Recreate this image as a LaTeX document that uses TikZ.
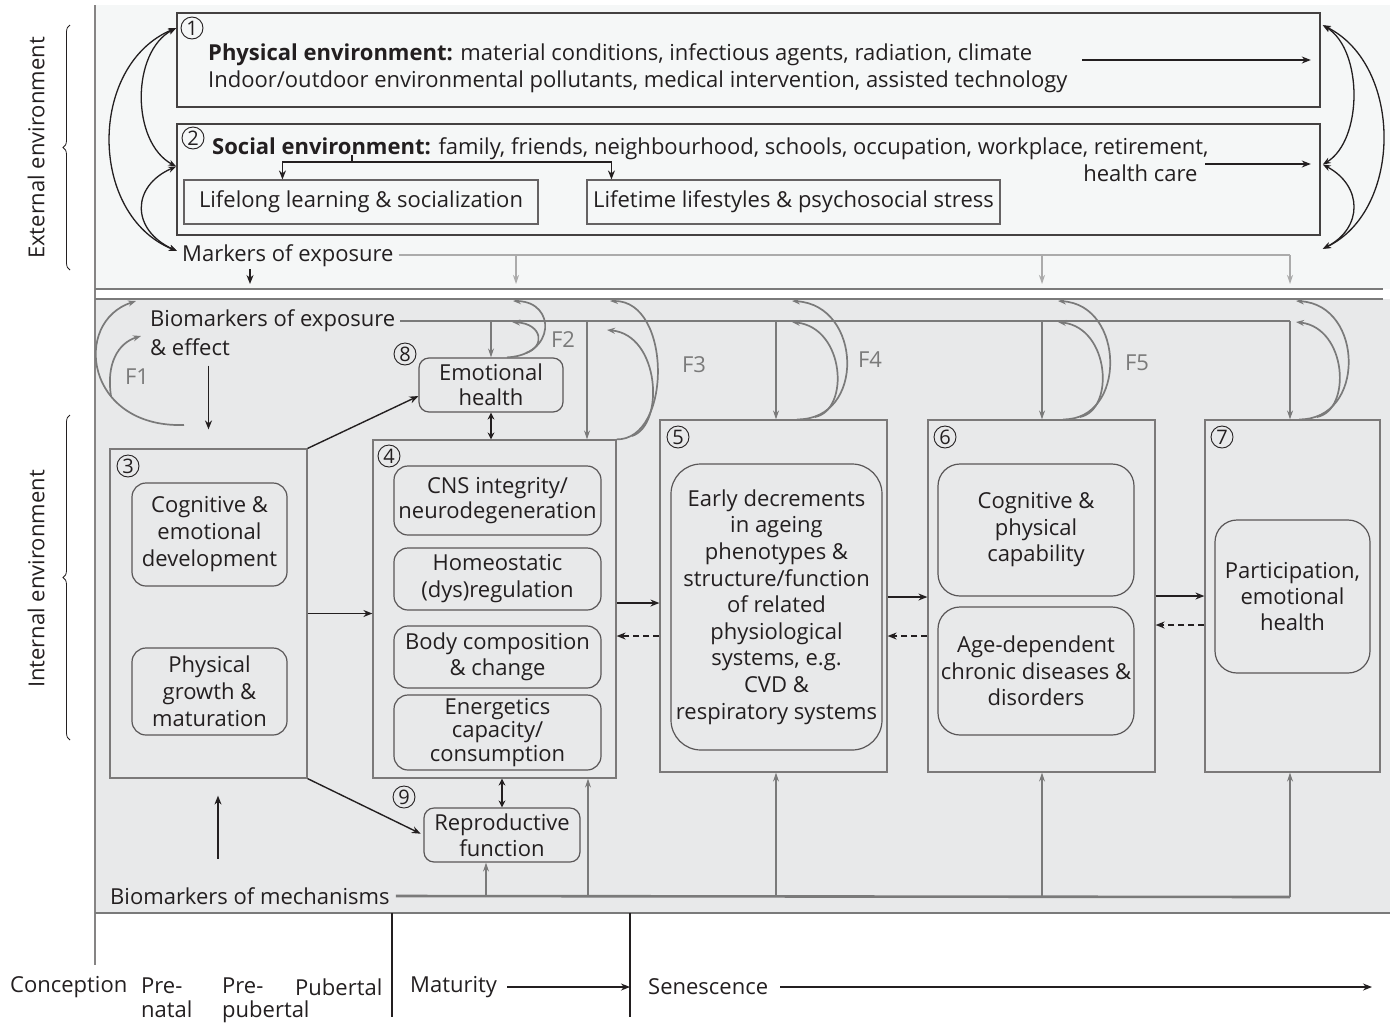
\documentclass[tikz,border=0pt]{standalone}
\usepackage{fontspec}
\setmainfont{Open Sans}
\usetikzlibrary{arrows.meta,calc,positioning,decorations.pathreplacing}
\definecolor{ink}{HTML}{231F20}
\definecolor{extbg}{HTML}{F5F7F7}
\definecolor{intbg}{HTML}{E8E9EA}
\definecolor{lineg}{HTML}{7A7A7A}
\definecolor{lightg}{HTML}{ABABAB}

\begin{document}
\begin{tikzpicture}[x=1pt,y=-1pt,font=\fontsize{22}{27}\selectfont,text=ink,>={Stealth[length=9pt,width=7pt]}]

\tikzset{envbox/.style={draw=ink!85,line width=1.6pt,inner sep=0pt,shape=rectangle},
subbox/.style={draw=ink!70,line width=1.1pt,inner sep=0pt,shape=rectangle},
stagebox/.style={draw=ink!60,line width=1.2pt,inner sep=0pt,shape=rectangle},
roundbox/.style={draw=ink!75,line width=1.2pt,rounded corners=14pt,inner sep=0pt,align=center},
num/.style={draw=ink,line width=0.9pt,circle,inner sep=0pt,minimum size=22pt,font=\fontsize{20}{20}\selectfont},
plain/.style={inner sep=0pt},
blk/.style={->,line width=1.4pt,draw=ink},
blkboth/.style={<->,line width=1.4pt,draw=ink,>={Stealth[length=7pt,width=7pt]}},
backarr/.style={->,line width=1.4pt,draw=ink,dash pattern=on 6pt off 4pt},
envarc/.style={<->,line width=1.3pt,draw=ink,>={Stealth[length=8pt,width=6pt]}},
dblline/.style={line width=2.6pt,draw=lineg},
bioline/.style={line width=2.6pt,draw=lineg},
bioarr/.style={->,line width=1.2pt,draw=lineg,>={Stealth[length=9pt,width=6pt]}},
feedarc/.style={->,line width=1.7pt,draw=lineg,>={Stealth[length=8pt,width=6pt]}},
markline/.style={line width=1.1pt,draw=lightg},
markarr/.style={->,line width=1.1pt,draw=lightg,>={Stealth[length=9pt,width=6pt]}},
flabel/.style={inner sep=0pt,text=lineg},
brace/.style={decorate,decoration={brace,amplitude=7pt},line width=0.8pt,draw=ink}}

\useasboundingbox (0,0) rectangle (1394,1023);

% Backgrounds and frame
\fill[extbg] (95,5) rectangle (1390,289);
\fill[intbg] (95,299) rectangle (1390,913);
\draw[line width=2pt,draw=ink!55] (95,5) -- (95,965);
\draw[line width=2.5pt,draw=lineg] (95,913) -- (1390,913);
\coordinate (dblA) at (95,289);
\coordinate (dblB) at (95,299);
\draw[dblline] (dblA) -- (dblA -| 1383,0);
\draw[dblline] (dblB) -- (dblB -| 1383,0);

% Side labels
\node (ext) [plain,rotate=90] at (36,148) {External environment};
\node (int) [plain,rotate=90] at (36,579) {Internal environment};
\draw[brace] (70,270) -- (70,25);
\draw[brace] (70,740) -- (70,415);

% Physical environment
\node (phys) [envbox,minimum width=1143pt,minimum height=94pt] at (748.5,60) {};
\node (n1) [num] at (192,28) {1};
\node (phystext) [plain,anchor=west,align=left] at (208,68) {\textbf{Physical environment:} material conditions, infectious agents, radiation, climate\\Indoor/outdoor environmental pollutants, medical intervention, assisted technology};
\coordinate (physarr) at (1082,60);
\draw[blk,shorten >=10pt] (physarr) -- (phys.east |- physarr);

% Social environment
\node (soc) [envbox,minimum width=1143pt,minimum height=111pt] at (748.5,179.5) {};
\node (n2) [num] at (193,138) {2};
\node (soctext) [plain,anchor=west,align=right] at (212,160) {\textbf{Social environment:} family, friends, neighbourhood, schools, occupation, workplace, retirement,\\health care\hspace*{11pt}};
\node (learn) [subbox,minimum width=354pt,minimum height=44pt] at (361,202) {Lifelong learning \& socialization};
\node (life) [subbox,minimum width=413pt,minimum height=44pt] at (793.5,202) {Lifetime lifestyles \& psychosocial stress};
\coordinate (socarr) at (1205,164);
\draw[blk,shorten >=10pt] (socarr) -- (soc.east |- socarr);
\coordinate (branch) at (352,155);
\coordinate (split) at (352,162);
\draw[line width=2pt,draw=ink] (branch) -- (split);
\draw[blk] (split) -| ($(learn.north west)+(99,0)$);
\draw[blk] (split) -| ($(life.north west)+(25,0)$);

% Markers of exposure
\node (mexp) [plain,anchor=west] at (182,256) {Markers of exposure};
\coordinate (mexpend) at (1290,255);
\draw[markline] ([xshift=5pt]mexp.east |- mexpend) -- (mexpend);
\draw[markarr,shorten >=5pt] (mexpend -| 516,0) -- (dblA -| 516,0);
\draw[markarr,shorten >=5pt] (mexpend -| 1042,0) -- (dblA -| 1042,0);
\draw[markarr,shorten >=5pt] (mexpend) -- (dblA -| mexpend);
\draw[blk,shorten <=2pt,shorten >=5pt] (mexp.south -| 250,0) -- (dblA -| 250,0);

% Arcs between the environments
\coordinate (la) at (phys.west |- n1);
\coordinate (lb) at ($(soc.west)+(0,-13)$);
\coordinate (lc) at ($(mexp.west)+(-5,-5)$);
\draw[envarc] (la) .. controls (88,65) and (88,215) .. (lc);
\draw[envarc] (la) .. controls (131,52) and (131,142) .. (lb);
\draw[envarc] (lb) .. controls (131,186) and (131,230) .. (lc);
\coordinate (ra) at ($(phys.north east)+(2,13)$);
\coordinate (rb) at ($(soc.east)+(2,-15)$);
\coordinate (rc) at ($(soc.south east)+(2,13)$);
\draw[envarc] (ra) .. controls (1403,65) and (1403,210) .. (rc);
\draw[envarc] (ra) .. controls (1363,50) and (1363,140) .. (rb);
\draw[envarc] (rb) .. controls (1363,186) and (1363,228) .. (rc);

% Life-course stages
\node (b3) [stagebox,minimum width=197pt,minimum height=329pt] at (208.5,613.5) {};
\node (n3) [num] at (128,466) {3};
\node (cogdev) [roundbox,minimum width=155pt,minimum height=103pt] at (209.5,534.5) {Cognitive \&\\emotional\\development};
\node (physgr) [roundbox,minimum width=155pt,minimum height=87pt] at (209.5,691.5) {Physical\\growth \&\\maturation};

\node (b4) [stagebox,minimum width=243pt,minimum height=338pt] at (494.5,609) {};
\node (n4) [num] at (389,456) {4};
\node (cns) [roundbox,minimum width=207pt,minimum height=69pt,font=\fontsize{22}{24.5}\selectfont] at (497.5,500.5) {CNS integrity/\\neurodegeneration};
\node (homeo) [roundbox,minimum width=207pt,minimum height=62pt] at (497.5,579) {Homeostatic\\(dys)regulation};
\node (body) [roundbox,minimum width=207pt,minimum height=62pt,font=\fontsize{22}{26}\selectfont] at (497.5,657) {Body composition\\\& change};
\node (energ) [roundbox,minimum width=207pt,minimum height=75pt,font=\fontsize{22}{23.5}\selectfont] at (497.5,732.5) {Energetics\\capacity/\\consumption};

\node (b5) [stagebox,minimum width=227pt,minimum height=352pt] at (773.5,596) {};
\node (n5) [num] at (678,437) {5};
\node (early) [roundbox,rounded corners=30pt,minimum width=211pt,minimum height=286pt,font=\fontsize{22}{26.6}\selectfont] at (776.5,607) {Early decrements\\in ageing\\phenotypes \&\\structure/function\\of related\\physiological\\systems, e.g.\\CVD \&\\respiratory systems};

\node (b6) [stagebox,minimum width=227pt,minimum height=352pt] at (1041.5,596) {};
\node (n6) [num] at (945,437) {6};
\node (cogphys) [roundbox,rounded corners=22pt,minimum width=196pt,minimum height=132pt,font=\fontsize{22}{26.5}\selectfont] at (1036,530) {Cognitive \&\\physical\\capability};
\node (agedep) [roundbox,rounded corners=22pt,minimum width=196pt,minimum height=128pt,font=\fontsize{22}{26.5}\selectfont] at (1036,671) {Age-dependent\\chronic diseases \&\\disorders};

\node (b7) [stagebox,minimum width=175pt,minimum height=352pt] at (1292.5,596) {};
\node (n7) [num] at (1222,437) {7};
\node (partic) [roundbox,rounded corners=22pt,minimum width=155pt,minimum height=153pt,font=\fontsize{22}{26}\selectfont] at (1292.5,596.5) {Participation,\\emotional\\health};

\node (emot) [roundbox,rounded corners=10pt,minimum width=144pt,minimum height=54pt,font=\fontsize{22}{25}\selectfont] at (491,385) {Emotional\\health};
\node (n8) [num] at (405,354) {8};
\node (repro) [roundbox,rounded corners=10pt,minimum width=156pt,minimum height=54pt,font=\fontsize{22}{26}\selectfont] at (502,835) {Reproductive\\function};
\node (n9) [num] at (404,797) {9};

% Arrows between stages
\draw[blk] (b3.north east) -- ($(emot.south west)!0.3!(emot.north west)$);
\draw[blk,shorten >=3pt] (b3.south east) -- (repro.west);
\draw[blk] (b3.east) -- (b3.east -| b4.west);
\draw[blkboth] (emot.south) -- (emot.south |- b4.north);
\draw[blkboth] (b4.south -| repro.north) -- (repro.north);
\draw[blk] (b4.east |- 0,603) -- (b5.west |- 0,603);
\draw[backarr] (b5.west |- 0,636) -- (b4.east |- 0,636);
\draw[blk] (b5.east |- 0,597) -- (b6.west |- 0,597);
\draw[backarr] (b6.west |- 0,636) -- (b5.east |- 0,636);
\draw[blk] (b6.east |- 0,596) -- (b7.west |- 0,596);
\draw[backarr] (b7.west |- 0,625) -- (b6.east |- 0,625);

% Biomarkers of exposure & effect
\node (bexp) [plain,anchor=west] at (150,321) {Biomarkers of exposure};
\node (beff) [plain,anchor=west] at (150,347) {\& effect};
\coordinate (bexpend) at (1290,321);
\draw[bioline] ([xshift=5pt]bexp.east) -- (bexpend);
\draw[bioarr] (bexpend -| emot.north) -- (emot.north);
\draw[bioarr] (bexpend -| 587,0) -- (b4.north -| 587,0);
\draw[bioarr] (bexpend -| 776,0) -- (b5.north -| 776,0);
\draw[bioarr] (bexpend -| 1042,0) -- (b6.north -| 1042,0);
\draw[bioarr] (bexpend) -- (b7.north -| bexpend);
\draw[blk,shorten <=10pt] (beff.south -| b3.north) -- ($(b3.north)+(0,-19)$);

% Feedback arcs
\draw[feedarc] (184,425) .. controls (85,428) and (72,322) .. (136,301);
\draw[feedarc] (111,396) .. controls (106,364) and (118,343) .. (141,336);
\draw[feedarc] (emot.north -| 507,0) .. controls (556,355) and (556,302) .. (513,301);
\draw[feedarc] (526,353) .. controls (545,347) and (543,324) .. (512,322);
\draw[feedarc] (b4.north east) .. controls (672,440) and (672,301) .. (610,301);
\draw[feedarc] (632,436) .. controls (665,425) and (660,335) .. (607,330);
\draw[feedarc] (b5.north -| 797,0) .. controls (866,420) and (862,305) .. (792,301);
\draw[feedarc] (815,417) .. controls (850,410) and (845,328) .. (792,322);
\draw[feedarc] (b6.north -| 1063,0) .. controls (1127,420) and (1125,305) .. (1058,301);
\draw[feedarc] (1080,417) .. controls (1115,410) and (1110,328) .. (1058,322);
\draw[feedarc] (b7.north -| 1299,0) .. controls (1366,420) and (1364,305) .. (1296,301);
\draw[feedarc] (1317,417) .. controls (1352,410) and (1347,328) .. (1296,322);
\node (f1) [flabel] at (137,377) {F1};
\node (f2) [flabel] at (563,340) {F2};
\node (f3) [flabel] at (694,365) {F3};
\node (f4) [flabel] at (870,360) {F4};
\node (f5) [flabel] at (1137,363) {F5};

% Biomarkers of mechanisms
\node (bmech) [plain,anchor=west] at (110,896) {Biomarkers of mechanisms};
\coordinate (bmechend) at (1290,897);
\draw[bioline] ([xshift=6pt]bmech.east) -- (bmechend);
\draw[bioarr] (bmechend -| 486,0) -- (repro.south -| 486,0);
\draw[bioarr] (bmechend -| 588,0) -- (b4.south -| 588,0);
\draw[bioarr] (bmechend -| 776,0) -- (b5.south -| 776,0);
\draw[bioarr] (bmechend -| 1042,0) -- (b6.south -| 1042,0);
\draw[bioarr] (bmechend) -- (b7.south -| bmechend);
\draw[blk] ($(b3.south)+(9.5,80)$) -- ($(b3.south)+(9.5,17)$);

% Timeline
\coordinate (tla) at (392,913);
\coordinate (tlb) at (630,913);
\draw[line width=2.6pt,draw=ink] (tla) -- (tla |- 0,1017);
\draw[line width=1.3pt,draw=ink] (tlb) -- (tlb |- 0,1017);
\node (conc) [plain,anchor=west] at (10,987) {Conception};
\node (pren) [plain,anchor=north west,align=left,font=\fontsize{22}{24}\selectfont] at (141,978) {Pre-\\natal};
\node (prepub) [plain,anchor=north west,align=left,font=\fontsize{22}{24}\selectfont] at (222,978) {Pre-\\pubertal};
\node (pub) [plain,anchor=west] at (295,987) {Pubertal};
\node (mat) [plain,anchor=west] at (410,987) {Maturity};
\draw[blk] ([xshift=10pt]mat.east) -- (mat.east -| tlb);
\node (sen) [plain,anchor=west] at (648,987) {Senescence};
\coordinate (senend) at (1372,989);
\draw[blk] ([xshift=12pt]sen.east) -- (sen.east -| senend);

\end{tikzpicture}
\end{document}
